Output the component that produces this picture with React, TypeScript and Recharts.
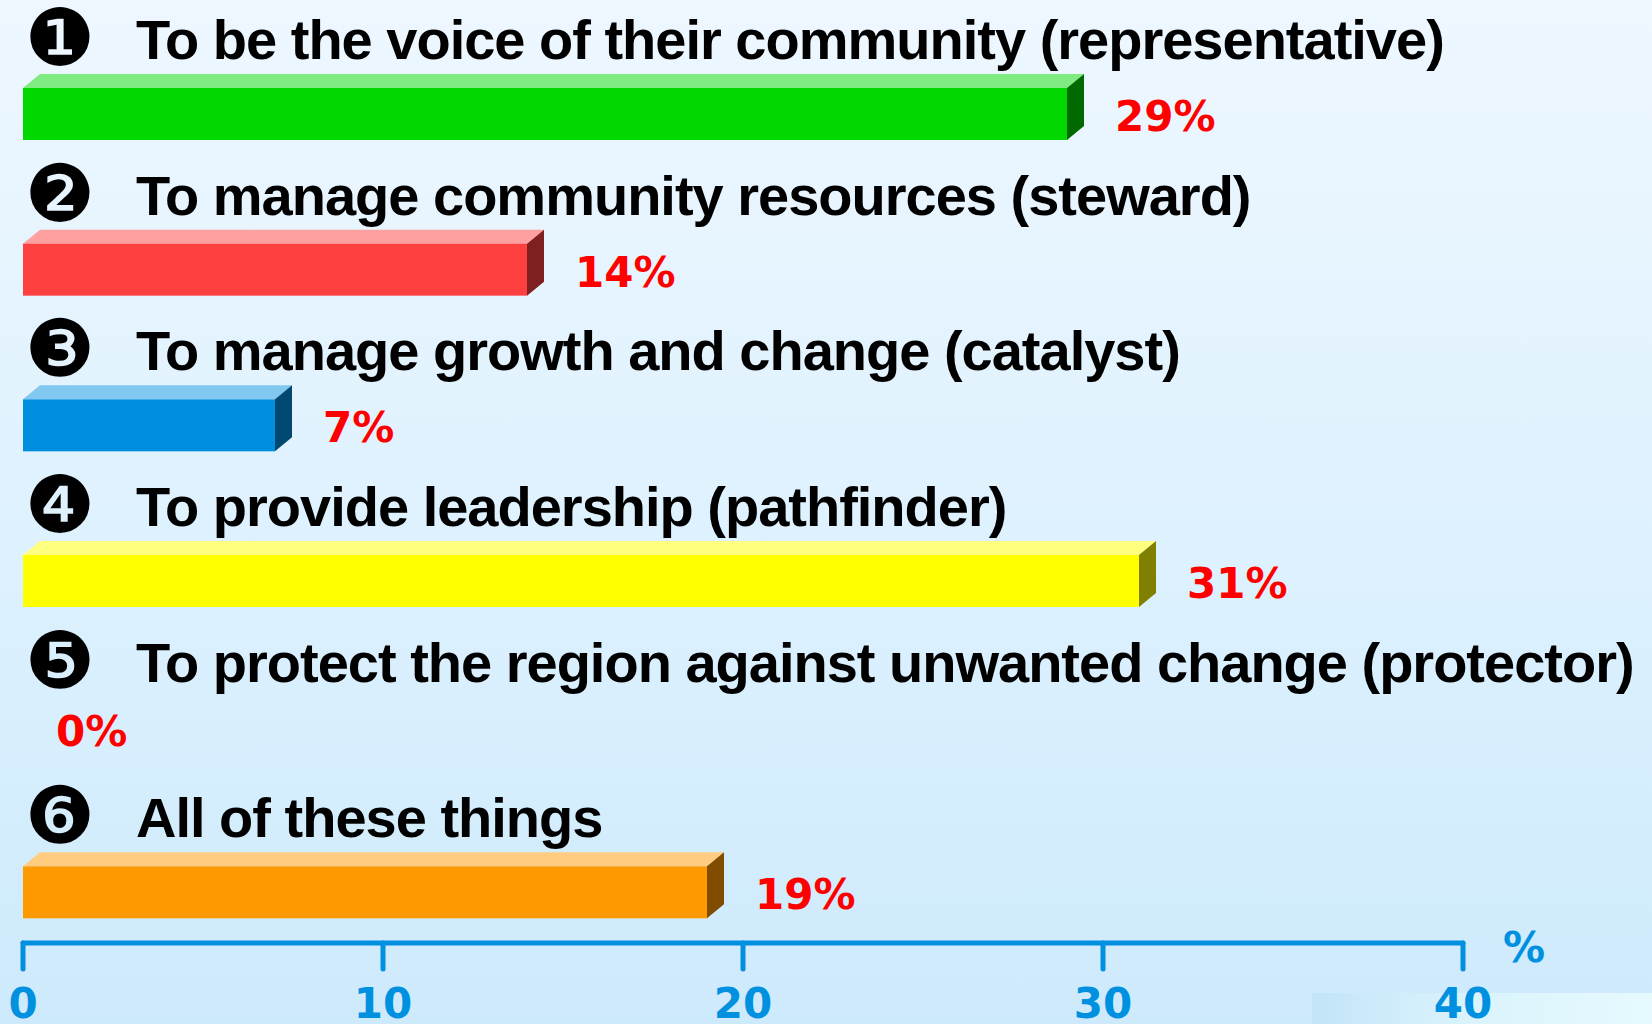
import { BarChart, Bar, XAxis, YAxis, LabelList } from "recharts";

const categories = [
  "To be the voice of their community (representative)",
  "To manage community resources (steward)",
  "To manage growth and change (catalyst)",
  "To provide leadership (pathfinder)",
  "To protect the region against unwanted change (protector)",
  "All of these things",
];
const markers = ["❶", "❷", "❸", "❹", "❺", "❻"];
const values = [29, 14, 7, 31, 0, 19];
const xTicks = [0, 10, 20, 30, 40];

// front / top / side faces of each 3D bar
const faceColors = [
  { front: "#00D800", top: "#80EB80", side: "#006A00" },
  { front: "#FF4040", top: "#FFA0A0", side: "#7F2020" },
  { front: "#008FDF", top: "#80C8F0", side: "#004870" },
  { front: "#FFFF00", top: "#FFFF80", side: "#808000" },
  { front: "#9966CC", top: "#CCB3E6", side: "#4C3366" },
  { front: "#FF9900", top: "#FFCC80", side: "#804C00" },
];

const AXIS_BLUE = "#0090E0";
const SHIFT = 27; // bar sits in the lower half of its band
const FRONT_H = 52;
const DX = 17;
const DY = 14;

const data = categories.map((name, i) => ({ name, marker: markers[i], value: values[i] }));

function Bar3D(props: any) {
  const { x, y, width, payload } = props;
  if (!width || width <= 0) return null;
  const idx = categories.indexOf(payload?.name);
  const c = faceColors[idx >= 0 ? idx : 0];
  const top = y + SHIFT;
  const bottom = top + FRONT_H;
  const r = x + width;
  return (
    <g>
      <polygon points={`${x},${top} ${x + DX},${top - DY} ${r + DX},${top - DY} ${r},${top}`} fill={c.top} />
      <polygon points={`${r},${top} ${r + DX},${top - DY} ${r + DX},${bottom - DY} ${r},${bottom}`} fill={c.side} />
      <rect x={x} y={top} width={width} height={FRONT_H} fill={c.front} />
    </g>
  );
}

function box(props: any) {
  const vb = props.viewBox ?? {};
  return {
    x: vb.x ?? props.x ?? 0,
    y: vb.y ?? props.y ?? 0,
    width: vb.width ?? props.width ?? 0,
  };
}

function PctLabel(props: any) {
  const { x, y, width } = box(props);
  const zero = !props.value;
  return (
    <text
      x={x + width + (zero ? 33 : 48)}
      y={y + SHIFT + (zero ? 35 : 43)}
      fill="#FF0000"
      fontFamily="'DejaVu Sans', sans-serif"
      fontWeight="bold"
      fontSize={42}
    >
      {props.value}%
    </text>
  );
}

function TitleLabel(props: any) {
  const { y } = box(props);
  const idx = categories.indexOf(props.value);
  return (
    <g>
      <text
        x={60}
        y={y + 4}
        textAnchor="middle"
        fontFamily="'DejaVu Sans', sans-serif"
        fontSize={79}
        fill="#000"
      >
        {markers[idx]}
      </text>
      <text
        x={136}
        y={y - 2}
        fontFamily="'Liberation Sans', Arial, sans-serif"
        fontWeight="bold"
        fontSize={56}
        letterSpacing={-1}
        fill="#000"
      >
        {props.value}
      </text>
    </g>
  );
}

function AxisTick(props: any) {
  const { x, y, payload } = props;
  return (
    <text
      x={x}
      y={y + 49}
      textAnchor="middle"
      fill={AXIS_BLUE}
      fontFamily="'DejaVu Sans', sans-serif"
      fontWeight="bold"
      fontSize={42}
    >
      {payload.value}
    </text>
  );
}

function UnitLabel(props: any) {
  const vb = props.viewBox;
  return (
    <text
      x={vb.x + vb.width + 61}
      y={vb.y + 19}
      textAnchor="middle"
      fill={AXIS_BLUE}
      fontFamily="'DejaVu Sans', sans-serif"
      fontWeight="bold"
      fontSize={42}
    >
      %
    </text>
  );
}

export default function App() {
  return (
    <div
      style={{
        position: "absolute",
        left: 0,
        top: 0,
        width: 1652,
        height: 1024,
        background: "linear-gradient(to bottom, #EEF7FF 0%, #DDF1FE 55%, #CDEAFC 100%)",
        overflow: "hidden",
      }}
    >
      <div
        style={{
          position: "absolute",
          left: 1312,
          top: 993,
          width: 340,
          height: 31,
          background: "linear-gradient(to right, #C2E3F8 0%, #D8F2FC 40%, #E6FAFE 100%)",
        }}
      />
      <BarChart
        width={1652}
        height={1024}
        data={data}
        layout="vertical"
        margin={{ top: 9, right: 189, bottom: 0, left: 23 }}
        style={{ position: "absolute", left: 0, top: 0 }}
      >
        <XAxis
          type="number"
          domain={[0, 40]}
          ticks={xTicks}
          height={81}
          tickSize={26}
          tickMargin={0}
          axisLine={{ stroke: AXIS_BLUE, strokeWidth: 5, strokeLinecap: "round" }}
          tickLine={{ stroke: AXIS_BLUE, strokeWidth: 5, strokeLinecap: "round" }}
          tick={<AxisTick />}
          label={<UnitLabel />}
        />
        <YAxis type="category" dataKey="name" hide width={0} />
        <Bar dataKey="value" barSize={FRONT_H} shape={<Bar3D />} isAnimationActive={false}>
          <LabelList dataKey="value" content={<PctLabel />} />
          <LabelList dataKey="name" content={<TitleLabel />} />
        </Bar>
      </BarChart>
    </div>
  );
}
